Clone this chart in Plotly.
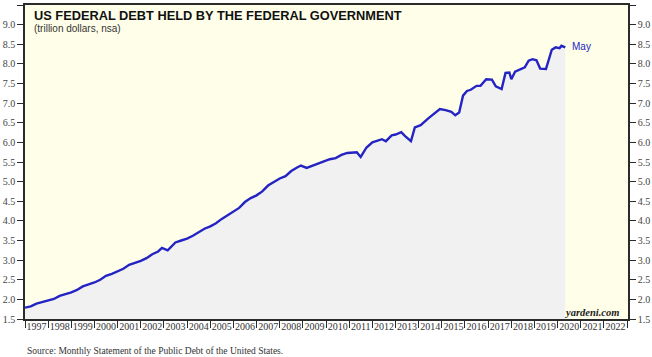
import plotly.graph_objects as go

dates = ["1997-01", "1997-04", "1997-07", "1997-10", "1998-01", "1998-04", "1998-07", "1998-10",
         "1999-01", "1999-04", "1999-07", "1999-10", "2000-01", "2000-04", "2000-07", "2000-10",
         "2001-01", "2001-04", "2001-07", "2001-10", "2002-01", "2002-04", "2002-07", "2002-10",
         "2002-12", "2003-03", "2003-07", "2003-10", "2004-01", "2004-04", "2004-07", "2004-10",
         "2005-01", "2005-04", "2005-07", "2005-10", "2006-01", "2006-04", "2006-07", "2006-10",
         "2007-01", "2007-04", "2007-07", "2007-10", "2008-01", "2008-04", "2008-07", "2008-10",
         "2008-12", "2009-03", "2009-06", "2009-09", "2009-12", "2010-03", "2010-06", "2010-09",
         "2010-12", "2011-03", "2011-05", "2011-07", "2011-10", "2012-01", "2012-04", "2012-06",
         "2012-08", "2012-11", "2013-01", "2013-04", "2013-06", "2013-09", "2013-11", "2014-02",
         "2014-06", "2014-09", "2014-12", "2015-03", "2015-06", "2015-08", "2015-10", "2015-12",
         "2016-02", "2016-04", "2016-07", "2016-09", "2016-12", "2017-03", "2017-05", "2017-08",
         "2017-10", "2017-12", "2018-01", "2018-03", "2018-06", "2018-08", "2018-10", "2018-12",
         "2019-02", "2019-04", "2019-07", "2019-08", "2019-10", "2019-12", "2020-02", "2020-03",
         "2020-05"]
debt = [1.79, 1.82, 1.89, 1.93, 1.97, 2.01, 2.09, 2.13,
        2.18, 2.24, 2.33, 2.38, 2.43, 2.50, 2.60, 2.65,
        2.71, 2.78, 2.88, 2.93, 2.98, 3.05, 3.15, 3.22,
        3.31, 3.25, 3.45, 3.50, 3.55, 3.62, 3.72, 3.80,
        3.86, 3.94, 4.05, 4.15, 4.25, 4.33, 4.48, 4.58,
        4.65, 4.75, 4.90, 5.00, 5.08, 5.14, 5.27, 5.36,
        5.41, 5.35, 5.41, 5.45, 5.53, 5.57, 5.60, 5.68,
        5.73, 5.74, 5.75, 5.63, 5.87, 6.00, 6.04, 6.08,
        6.03, 6.18, 6.20, 6.26, 6.16, 6.03, 6.38, 6.44,
        6.61, 6.72, 6.85, 6.82, 6.78, 6.69, 6.76, 7.19,
        7.31, 7.34, 7.44, 7.44, 7.61, 7.60, 7.43, 7.36,
        7.77, 7.78, 7.61, 7.80, 7.87, 7.91, 8.08, 8.12,
        8.09, 7.88, 7.87, 8.04, 8.36, 8.42, 8.40, 8.46,
        8.42]

y_ticks = [1.5, 2.0, 2.5, 3.0, 3.5, 4.0, 4.5, 5.0, 5.5, 6.0, 6.5, 7.0, 7.5, 8.0, 8.5, 9.0, 9.5]
x_range = ["1997-01-01", "2023-01-15"]

title_text = "<b>US FEDERAL DEBT HELD BY THE FEDERAL GOVERNMENT</b>"
subtitle_text = "(trillion dollars, nsa)"
end_label = "May"
source_text = "Source: Monthly Statement of the Public Debt of the United States."
brand_text = "<b><i>yardeni.com</i></b>"

LINE = "#2424C4"
AX = "#2b2b2b"
SERIF = "Liberation Serif, Times New Roman, serif"
SANS = "Liberation Sans, Arial, sans-serif"

fig = go.Figure()
fig.add_trace(go.Scatter(
    x=dates, y=debt, mode="lines",
    line=dict(color=LINE, width=2.4),
    fill="tozeroy", fillcolor="#F1F1F2",
    showlegend=False, hoverinfo="skip",
))
# invisible trace to activate secondary axes
fig.add_trace(go.Scatter(x=[dates[0]], y=[debt[0]], xaxis="x2", yaxis="y2",
                         mode="markers", marker=dict(opacity=0), showlegend=False,
                         hoverinfo="skip"))

fig.update_layout(
    width=652, height=357,
    margin=dict(l=25, r=24, t=5, b=38, autoexpand=False),
    paper_bgcolor="white",
    plot_bgcolor="#FFFFE9",
    xaxis=dict(
        type="date", range=x_range, automargin=False,
        tick0="1997-01-01", dtick="M12",
        ticks="outside", ticklen=7, tickwidth=1, tickcolor=AX,
        showticklabels=False,
        showline=True, linecolor=AX, linewidth=1.6, mirror=True,
        showgrid=False, zeroline=False,
    ),
    xaxis2=dict(
        type="date", range=x_range, overlaying="x", anchor="y", side="bottom",
        automargin=False,
        tick0="1997-01-01", dtick="M12", ticklabelmode="period",
        tickformat="%Y", ticks="",
        tickfont=dict(family=SERIF, size=10, color="#333"),
        showline=False, showgrid=False, zeroline=False,
    ),
    yaxis=dict(
        range=[1.5, 9.5], tickvals=y_ticks, tickformat=".1f", automargin=False,
        ticks="outside", ticklen=6, tickwidth=1, tickcolor=AX,
        tickfont=dict(family=SERIF, size=10, color="#444"),
        showline=True, linecolor=AX, linewidth=1.6, mirror=True,
        showgrid=False, zeroline=False,
    ),
    yaxis2=dict(
        range=[1.5, 9.5], tickvals=y_ticks, tickformat=".1f", automargin=False,
        overlaying="y", side="right", anchor="x",
        ticks="outside", ticklen=6, tickwidth=1, tickcolor=AX,
        tickfont=dict(family=SERIF, size=10, color="#444"),
        showline=True, linecolor=AX, linewidth=1.6,
        showgrid=False, zeroline=False,
    ),
)

fig.add_annotation(text=title_text, xref="paper", yref="paper", x=0.011, y=0.968,
                   xanchor="left", yanchor="middle", showarrow=False,
                   font=dict(family=SANS, size=12.8, color="#111"))
fig.add_annotation(text=subtitle_text, xref="paper", yref="paper", x=0.011, y=0.925,
                   xanchor="left", yanchor="middle", showarrow=False,
                   font=dict(family=SANS, size=10, color="#333"))
fig.add_annotation(text=end_label, xref="x", yref="y", x="2020-07-10", y=debt[-1] + 0.02,
                   xanchor="left", yanchor="middle", showarrow=False,
                   font=dict(family=SANS, size=10, color=LINE))
fig.add_annotation(text=brand_text, xref="paper", yref="paper", x=0.988, y=0.022,
                   xanchor="right", yanchor="middle", showarrow=False,
                   font=dict(family=SERIF, size=10.5, color="#222"))
fig.add_annotation(text=source_text, xref="paper", yref="paper", x=0.0, y=-0.102,
                   xanchor="left", yanchor="middle", showarrow=False,
                   font=dict(family=SERIF, size=9.5, color="#333"))

fig.write_html("out.html", config={"displayModeBar": False},
               post_script="document.body.style.margin='0';")
